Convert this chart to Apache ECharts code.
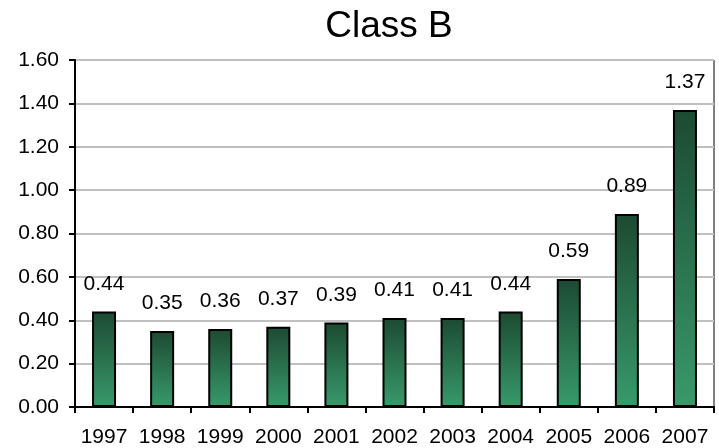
<!DOCTYPE html>
<html>
<head>
<meta charset="utf-8">
<script src="https://cdn.jsdelivr.net/npm/echarts@6/dist/echarts.min.js"></script>
<style>
  html, body { margin: 0; padding: 0; background: #fff; }
  #chart { width: 719px; height: 448px; }
</style>
</head>
<body>
<div id="chart"></div>
<script>
const years = ["1997", "1998", "1999", "2000", "2001", "2002", "2003", "2004", "2005", "2006", "2007"];
const values = [0.44, 0.35, 0.36, 0.37, 0.39, 0.41, 0.41, 0.44, 0.59, 0.89, 1.37];

const chart = echarts.init(document.getElementById("chart"));

chart.setOption({
  animation: false,
  title: {
    text: "Class B",
    left: 384,
    top: 3,
    textAlign: "center",
    textStyle: { fontFamily: "Liberation Sans", fontSize: 37, fontWeight: "normal", color: "#000" }
  },
  grid: {
    left: 75, right: 5, top: 60, bottom: 39,
    show: true, borderColor: "#000", borderWidth: 1
  },
  xAxis: {
    type: "category",
    data: years,
    axisLine: { lineStyle: { color: "#000", width: 2 } },
    axisTick: { show: true, interval: 0, length: 6, lineStyle: { color: "#000", width: 2 } },
    axisLabel: {
      interval: 0, hideOverlap: false,
      color: "#000", fontFamily: "Liberation Sans", fontSize: 21, margin: 20
    }
  },
  yAxis: {
    type: "value",
    min: 0, max: 1.6, interval: 0.2,
    axisLine: { show: true, lineStyle: { color: "#000", width: 2 } },
    axisTick: { show: true, length: 6, lineStyle: { color: "#000", width: 2 } },
    splitLine: { lineStyle: { color: "#c0c0c0", width: 2 } },
    axisLabel: {
      color: "#000", fontFamily: "Liberation Sans", fontSize: 21, margin: 16,
      formatter: (v) => v.toFixed(2)
    }
  },
  series: [{
    type: "bar",
    data: values,
    barWidth: 24,
    itemStyle: {
      borderColor: "#000",
      borderWidth: 2,
      color: new echarts.graphic.LinearGradient(0, 0, 0, 1, [
        { offset: 0, color: "#1c4a32" },
        { offset: 1, color: "#389a6b" }
      ])
    },
    label: {
      show: true,
      position: "top",
      distance: 17,
      color: "#000",
      fontFamily: "Liberation Sans",
      fontSize: 21,
      formatter: (p) => p.value.toFixed(2)
    }
  }]
});
</script>
</body>
</html>
